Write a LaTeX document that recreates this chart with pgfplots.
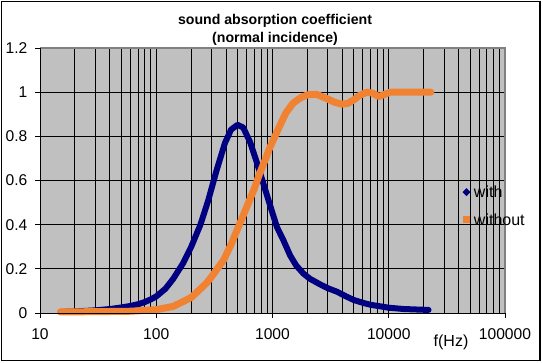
\documentclass[border=0pt]{standalone}
\usepackage{fontspec}
\setmainfont{Liberation Sans}
\usepackage{pgfplots}
\pgfplotsset{compat=1.18}
\definecolor{navyc}{RGB}{0,0,128}
\definecolor{orangec}{RGB}{240,130,50}
\definecolor{plotgray}{RGB}{192,192,192}
\definecolor{bordergray}{RGB}{128,128,128}
\begin{document}
\begin{tikzpicture}[x=1pt,y=1pt]
\useasboundingbox (0,0) rectangle (407.25,271.5);
\draw[black, line width=0.9pt] (1,1) rectangle (405,270.5);
\node[anchor=base, font=\bfseries\fontsize{10.6}{12}\selectfont] at (206.25,253.1) {sound absorption coefficient};
\node[anchor=base, font=\bfseries\fontsize{10.6}{12}\selectfont] at (206.25,239.6) {(normal incidence)};
\node[anchor=center, font=\fontsize{12}{14}\selectfont] at (338.25,15) {f(Hz)};
\begin{axis}[
  at={(30pt,36.75pt)}, anchor=south west,
  scale only axis, width=348.75pt, height=198.75pt,
  xmode=log, log basis x=10,
  xmin=10, xmax=100000, ymin=0, ymax=1.2,
  xtick={10,100,1000,10000,100000},
  xticklabels={10,100,1000,10000,100000},
  minor xtick={20,30,40,50,60,70,80,90,200,300,400,500,600,700,800,900,2000,3000,4000,5000,6000,7000,8000,9000,20000,30000,40000,50000,60000,70000,80000,90000},
  ytick={0,0.2,0.4,0.6,0.8,1,1.2},
  yticklabels={0,0.2,0.4,0.6,0.8,1,1.2},
  xmajorgrids, xminorgrids, ymajorgrids,
  major grid style={black, line width=0.75pt},
  minor grid style={black, line width=0.75pt},
  tick align=outside, major tick length=3.75pt, minor tick length=0pt,
  xtick pos=bottom, ytick pos=left,
  tick style={black, line width=0.75pt},
  axis background/.style={fill=plotgray},
  axis line style={draw=none},
  ticklabel style={font=\fontsize{11.7}{14}\selectfont},
  xticklabel style={yshift=-4.5pt},
  yticklabel style={xshift=-2.25pt},
  clip=false,
  legend cell align=left,
  legend style={at={(axis description cs:0.9086,0.401)}, anchor=west, draw=none, fill=none,
    inner sep=0pt, outer sep=0pt, font=\fontsize{12}{14}\selectfont, row sep=10.6pt,
    nodes={inner sep=0pt},
    /tikz/every odd column/.append style={column sep=2.6pt}},
]
\addplot[navyc, line width=4.5pt, line join=round, line cap=round,
  legend image code/.code={\path[fill=navyc, draw=none] (3pt,3.6pt) -- (6pt,0.6pt) -- (3pt,-2.4pt) -- (0pt,0.6pt) -- cycle;}]
coordinates {
(15,0.005) (20,0.007) (30,0.012) (40,0.018) (50,0.025) (60,0.032) (70,0.040) (80,0.050) (90,0.062)
(100,0.075) (120,0.11) (140,0.155) (170,0.225) (200,0.30) (240,0.40) (280,0.51) (330,0.645)
(390,0.77) (440,0.83) (500,0.852) (560,0.84) (640,0.775) (730,0.685) (830,0.59) (950,0.49)
(1090,0.39) (1240,0.33) (1420,0.26) (1600,0.215) (1850,0.178) (2100,0.155) (2600,0.128)
(3000,0.112) (3600,0.096) (4300,0.075) (5000,0.059) (6000,0.046) (7000,0.037) (8500,0.03)
(10000,0.024) (13500,0.018) (17000,0.016) (22000,0.014)
};
\addlegendentry{with}
\addplot[orangec, line width=5.25pt, line join=round, line cap=round,
  legend image code/.code={\path[fill=orangec, draw=none] (0.4pt,3.2pt) rectangle (5.6pt,-2pt);}]
coordinates {
(15,0.005) (30,0.006) (60,0.008) (100,0.015) (140,0.03) (200,0.07) (270,0.135) (300,0.165)
(380,0.24) (440,0.31) (500,0.38) (600,0.48) (700,0.565) (780,0.635) (860,0.69) (950,0.75)
(1050,0.80) (1160,0.85) (1300,0.905) (1500,0.95) (1750,0.975) (2000,0.988) (2400,0.99)
(2900,0.972) (3400,0.955) (3900,0.946) (4400,0.948) (5000,0.965) (5600,0.985) (6500,1.0)
(7300,0.995) (8200,0.98) (9200,0.99) (10300,1.0) (13500,1.0) (18000,1.0) (23000,1.0)
};
\addlegendentry{without}
\draw[bordergray, line width=1.5pt] (rel axis cs:0,1) -- (rel axis cs:1,1) -- (rel axis cs:1,0);
\draw[black, line width=0.75pt] (rel axis cs:0,1) -- (rel axis cs:0,0) -- (rel axis cs:1,0);
\end{axis}
\end{tikzpicture}
\end{document}
